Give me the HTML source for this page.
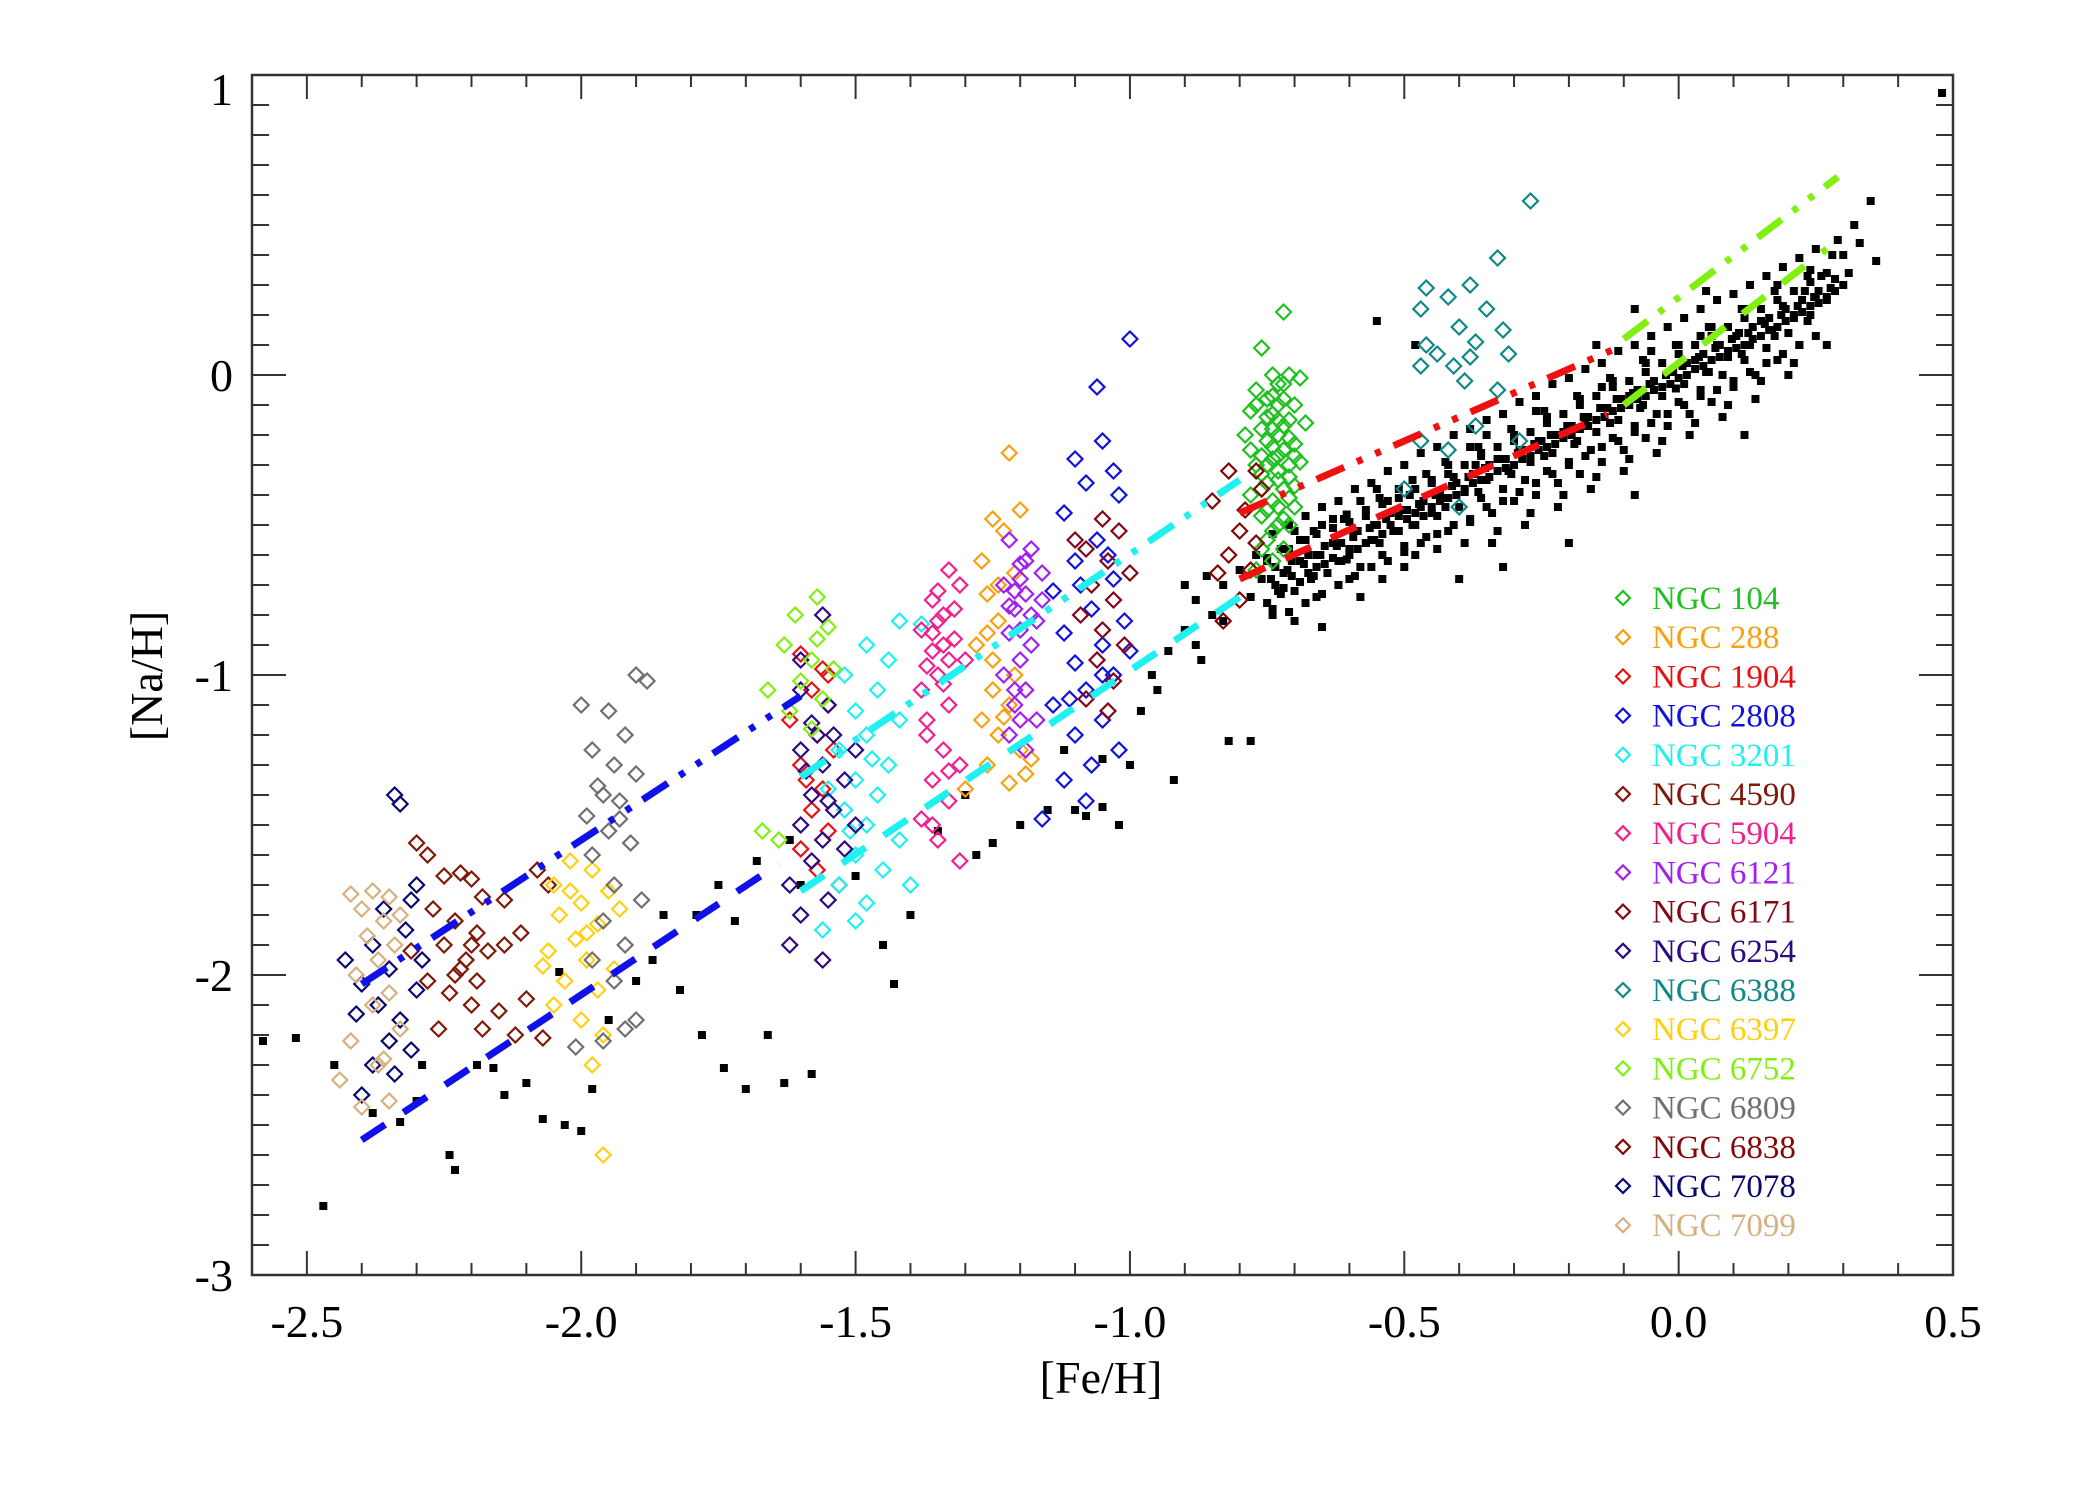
<!DOCTYPE html>
<html><head><meta charset="utf-8"><title>[Na/H] vs [Fe/H]</title>
<style>
html,body{margin:0;padding:0;background:#fff;}
svg{display:block;font-family:"Liberation Serif","DejaVu Serif",serif;}
</style></head>
<body>
<svg id="chart" width="2100" height="1500" viewBox="0 0 2100 1500" xmlns="http://www.w3.org/2000/svg">
<rect x="0" y="0" width="2100" height="1500" fill="#fff"/>
<g id="marks"></g>
<g id="fits"></g>
<g id="axes"></g>
<g id="legend"></g>
<text x="1101" y="1393" font-size="46" text-anchor="middle">[Fe/H]</text>
<text transform="translate(162,676) rotate(-90)" font-size="46" text-anchor="middle">[Na/H]</text>
</svg>
<script>
// ---- data ----
const xTicks = [-2.5, -2.0, -1.5, -1.0, -0.5, 0.0, 0.5];
const xTickLabels = ["-2.5", "-2.0", "-1.5", "-1.0", "-0.5", "0.0", "0.5"];
const yTicks = [-3, -2, -1, 0, 1];
const yTickLabels = ["-3", "-2", "-1", "0", "1"];
const clusterNames = ["NGC 104","NGC 288","NGC 1904","NGC 2808","NGC 3201","NGC 4590","NGC 5904","NGC 6121","NGC 6171","NGC 6254","NGC 6388","NGC 6397","NGC 6752","NGC 6809","NGC 6838","NGC 7078","NGC 7099"];
const clusterColors = ["#20c020","#f8a010","#e81010","#1010e0","#20f0f0","#801808","#f02090","#a020f0","#800818","#300880","#108888","#ffd010","#80f010","#707070","#800808","#080870","#d8b080"];

const ngc104 = [[-0.72,0.21],[-0.76,0.09],[-0.74,0.0],[-0.71,0.0],[-0.69,-0.01],[-0.73,-0.03],[-0.77,-0.05],[-0.75,-0.08],[-0.72,-0.08],[-0.7,-0.1],[-0.78,-0.12],[-0.74,-0.13],[-0.71,-0.15],[-0.68,-0.16],[-0.76,-0.18],[-0.73,-0.2],[-0.75,-0.22],[-0.7,-0.23],[-0.78,-0.25],[-0.72,-0.25],[-0.74,-0.28],[-0.69,-0.29],[-0.77,-0.3],[-0.73,-0.32],[-0.71,-0.34],[-0.75,-0.36],[-0.72,-0.38],[-0.78,-0.4],[-0.74,-0.42],[-0.7,-0.44],[-0.76,-0.47],[-0.73,-0.5],[-0.75,-0.55],[-0.72,-0.58],[-0.74,-0.62],[-0.77,-0.65],[-0.71,-0.3],[-0.73,-0.15],[-0.76,-0.27],[-0.7,-0.37],[-0.79,-0.2],[-0.74,-0.07],[-0.71,-0.21],
[-0.73,-0.1],[-0.75,-0.14],[-0.72,-0.17],[-0.74,-0.24],[-0.76,-0.33],[-0.73,-0.35],[-0.71,-0.41],[-0.75,-0.45],[-0.72,-0.48],[-0.74,-0.52],[-0.76,-0.38],[-0.73,-0.27],[-0.7,-0.27],[-0.77,-0.1],[-0.72,-0.03],[-0.74,-0.18],[-0.71,-0.5],[-0.76,-0.58],[-0.73,-0.44],[-0.75,-0.3]];
const ngc288 = [[-1.22,-0.26],[-1.25,-0.48],[-1.23,-0.52],[-1.2,-0.45],[-1.27,-0.62],[-1.21,-0.66],[-1.26,-0.73],[-1.24,-0.82],[-1.28,-0.9],[-1.25,-1.05],[-1.22,-1.1],[-1.27,-1.15],[-1.24,-1.2],[-1.2,-1.25],[-1.26,-1.3],[-1.22,-1.36],[-1.19,-1.33],[-1.25,-0.95],[-1.21,-1.0],[-1.3,-1.38],[-1.18,-1.28],[-1.24,-0.7],[-1.23,-1.14],[-1.26,-0.86]];
const ngc1904 = [[-1.6,-0.93],[-1.56,-0.98],[-1.58,-1.05],[-1.55,-1.1],[-1.62,-1.15],[-1.57,-1.2],[-1.54,-1.25],[-1.6,-1.3],[-1.56,-1.38],[-1.58,-1.45],[-1.55,-1.52],[-1.6,-1.58],[-1.57,-1.65],[-1.53,-1.7],[-1.59,-1.35],[-1.55,-1.0]];
const ngc2808 = [[-1.0,0.12],[-1.06,-0.04],[-1.05,-0.22],[-1.1,-0.28],[-1.03,-0.32],[-1.08,-0.36],[-1.02,-0.4],[-1.12,-0.46],[-1.06,-0.55],[-1.1,-0.62],[-1.03,-0.68],[-1.14,-0.72],[-1.07,-0.78],[-1.01,-0.82],[-1.12,-0.86],[-1.05,-0.9],[-1.1,-0.96],[-1.03,-1.0],[-1.08,-1.05],[-1.14,-1.1],[-1.05,-1.15],[-1.1,-1.2],[-1.02,-1.25],[-1.07,-1.3],[-1.12,-1.35],[-1.08,-1.42],[-1.16,-1.48],[-1.0,-0.92],[-1.04,-0.6],[-1.09,-0.7],[-1.05,-1.0],[-1.11,-1.08]];
const ngc3201 = [[-1.42,-0.82],[-1.38,-0.83],[-1.48,-0.9],[-1.44,-0.95],[-1.52,-1.0],[-1.46,-1.05],[-1.5,-1.12],[-1.42,-1.15],[-1.48,-1.2],[-1.53,-1.25],[-1.44,-1.3],[-1.5,-1.35],[-1.46,-1.4],[-1.52,-1.45],[-1.48,-1.5],[-1.42,-1.55],[-1.5,-1.6],[-1.45,-1.65],[-1.53,-1.7],[-1.48,-1.76],[-1.5,-1.82],[-1.56,-1.85],[-1.4,-1.7],[-1.55,-1.38],[-1.47,-1.28],[-1.51,-1.52]];
const ngc4590 = [[-2.3,-1.56],[-2.28,-1.6],[-2.25,-1.67],[-2.2,-1.68],[-2.22,-1.66],[-2.18,-1.74],[-2.14,-1.75],[-2.08,-1.65],[-2.06,-1.7],[-2.27,-1.78],[-2.23,-1.82],[-2.19,-1.86],[-2.25,-1.9],[-2.21,-1.95],[-2.17,-1.92],[-2.23,-2.0],[-2.19,-2.02],[-2.14,-1.9],[-2.11,-1.86],[-2.24,-2.06],[-2.2,-2.1],[-2.15,-2.12],[-2.1,-2.08],[-2.18,-2.18],[-2.26,-2.18],[-2.12,-2.2],[-2.07,-2.21],[-2.31,-1.92],[-2.28,-2.02],[-2.22,-1.98],[-2.2,-1.9]];
const ngc5904 = [[-1.33,-0.65],[-1.31,-0.7],[-1.36,-0.75],[-1.34,-0.8],[-1.38,-0.85],[-1.32,-0.88],[-1.36,-0.92],[-1.3,-0.95],[-1.35,-1.0],[-1.38,-1.05],[-1.33,-1.1],[-1.37,-1.2],[-1.34,-1.25],[-1.31,-1.3],[-1.36,-1.35],[-1.33,-1.42],[-1.38,-1.48],[-1.35,-1.55],[-1.31,-1.62],[-1.36,-1.5],[-1.34,-0.9],[-1.37,-0.97],[-1.35,-0.82],[-1.32,-0.78],[-1.36,-0.86],[-1.33,-0.95],[-1.35,-0.72],[-1.34,-1.03],[-1.37,-1.15],[-1.33,-1.32]];
const ngc6121 = [[-1.22,-0.55],[-1.18,-0.58],[-1.2,-0.63],[-1.16,-0.66],[-1.23,-0.7],[-1.19,-0.73],[-1.21,-0.78],[-1.17,-0.82],[-1.22,-0.86],[-1.18,-0.9],[-1.2,-0.95],[-1.23,-1.0],[-1.19,-1.05],[-1.21,-1.1],[-1.17,-1.15],[-1.22,-1.2],[-1.19,-1.25],[-1.16,-0.75],[-1.2,-0.68],[-1.21,-0.72],[-1.18,-0.8],[-1.2,-0.85],[-1.19,-0.62],[-1.22,-0.77],[-1.2,-1.15],[-1.21,-1.05]];
const ngc6171 = [[-1.05,-0.48],[-1.02,-0.52],[-1.08,-0.58],[-1.04,-0.62],[-1.0,-0.66],[-1.07,-0.7],[-1.03,-0.75],[-1.09,-0.8],[-1.05,-0.85],[-1.01,-0.9],[-1.06,-0.95],[-1.03,-1.02],[-1.08,-1.08],[-1.04,-1.12],[-1.1,-0.55]];
const ngc6254 = [[-1.56,-0.8],[-1.6,-1.05],[-1.55,-1.1],[-1.58,-1.16],[-1.54,-1.2],[-1.6,-1.25],[-1.56,-1.3],[-1.52,-1.35],[-1.58,-1.4],[-1.54,-1.45],[-1.6,-1.5],[-1.56,-1.55],[-1.52,-1.58],[-1.58,-1.62],[-1.62,-1.7],[-1.55,-1.75],[-1.6,-1.8],[-1.62,-1.9],[-1.56,-1.95],[-1.5,-1.5],[-1.5,-1.25],[-1.6,-0.95],[-1.57,-1.2],[-1.55,-1.42],[-1.59,-1.32]];
const ngc6388 = [[-0.27,0.58],[-0.33,0.39],[-0.38,0.3],[-0.46,0.29],[-0.42,0.26],[-0.35,0.22],[-0.47,0.22],[-0.4,0.16],[-0.32,0.15],[-0.37,0.11],[-0.46,0.1],[-0.44,0.07],[-0.41,0.03],[-0.38,0.06],[-0.31,0.07],[-0.47,0.03],[-0.39,-0.02],[-0.33,-0.05],[-0.29,-0.22],[-0.37,-0.17],[-0.47,-0.22],[-0.42,-0.25],[-0.4,-0.44],[-0.5,-0.38]];
const ngc6397 = [[-2.02,-1.62],[-1.98,-1.65],[-2.05,-1.7],[-1.95,-1.72],[-2.0,-1.76],[-2.04,-1.8],[-1.97,-1.83],[-2.01,-1.88],[-2.06,-1.92],[-1.99,-1.95],[-1.94,-1.98],[-2.03,-2.02],[-1.97,-2.05],[-2.05,-2.1],[-2.0,-2.15],[-1.96,-2.2],[-1.98,-2.3],[-1.96,-2.6],[-2.07,-1.97],[-1.93,-1.78],[-2.02,-1.72],[-1.99,-1.86]];
const ngc6809 = [[-1.9,-1.0],[-1.88,-1.02],[-2.0,-1.1],[-1.95,-1.12],[-1.92,-1.2],[-1.98,-1.25],[-1.94,-1.3],[-1.9,-1.33],[-1.97,-1.37],[-1.93,-1.42],[-1.99,-1.47],[-1.95,-1.52],[-1.91,-1.56],[-1.98,-1.6],[-1.94,-1.7],[-1.89,-1.75],[-1.96,-1.82],[-1.92,-1.9],[-1.98,-1.95],[-1.94,-2.02],[-1.9,-2.15],[-1.96,-2.22],[-2.01,-2.24],[-1.92,-2.18],[-1.96,-1.4],[-1.93,-1.48]];
const ngc6752 = [[-1.57,-0.74],[-1.61,-0.8],[-1.55,-0.84],[-1.63,-0.9],[-1.58,-0.95],[-1.54,-0.98],[-1.6,-1.02],[-1.66,-1.05],[-1.56,-1.08],[-1.62,-1.12],[-1.58,-1.18],[-1.67,-1.52],[-1.64,-1.55],[-1.57,-0.88]];
const ngc6838 = [[-0.77,-0.32],[-0.82,-0.32],[-0.85,-0.42],[-0.79,-0.45],[-0.76,-0.38],[-0.8,-0.52],[-0.77,-0.56],[-0.82,-0.6],[-0.78,-0.65],[-0.84,-0.66],[-0.8,-0.75],[-0.83,-0.82]];
const ngc7078 = [[-2.34,-1.4],[-2.33,-1.43],[-2.3,-1.7],[-2.31,-1.75],[-2.36,-1.78],[-2.32,-1.85],[-2.38,-1.9],[-2.43,-1.95],[-2.35,-1.98],[-2.4,-2.03],[-2.3,-2.05],[-2.37,-2.1],[-2.33,-2.15],[-2.41,-2.13],[-2.35,-2.22],[-2.31,-2.25],[-2.38,-2.3],[-2.34,-2.33],[-2.4,-2.4],[-2.29,-1.95]];
const ngc7099 = [[-2.42,-1.73],[-2.38,-1.72],[-2.35,-1.74],[-2.4,-1.78],[-2.36,-1.82],[-2.33,-1.8],[-2.39,-1.87],[-2.34,-1.9],[-2.37,-1.95],[-2.41,-2.0],[-2.35,-2.06],[-2.38,-2.1],[-2.33,-2.18],[-2.42,-2.22],[-2.36,-2.28],[-2.44,-2.35],[-2.4,-2.44],[-2.35,-2.42],[-2.37,-2.3]];
const clusterData = [ngc104,ngc288,ngc1904,ngc2808,ngc3201,ngc4590,ngc5904,ngc6121,ngc6171,ngc6254,ngc6388,ngc6397,ngc6752,ngc6809,ngc6838,ngc7078,ngc7099];

const fieldPoor = [[-2.58,-2.22],[-2.52,-2.21],[-2.47,-2.77],[-2.45,-2.3],[-2.38,-2.46],[-2.33,-2.49],[-2.3,-2.42],[-2.29,-2.3],[-2.24,-2.6],[-2.23,-2.65],[-2.19,-2.3],[-2.16,-2.31],[-2.14,-2.4],[-2.1,-2.36],[-2.07,-2.48],[-2.03,-2.5],[-2.0,-2.52],[-2.04,-1.99],[-1.98,-2.38],[-1.95,-2.15],[-1.9,-2.02],[-1.87,-1.95],[-1.85,-1.8],[-1.82,-2.05],[-1.79,-1.8],[-1.78,-2.2],[-1.75,-1.7],[-1.72,-1.82],[-1.74,-2.31],[-1.7,-2.38],[-1.68,-1.62],[-1.66,-2.2],[-1.63,-2.36],[-1.62,-1.55],[-1.6,-1.7],[-1.58,-2.33],[-1.5,-1.67],[-1.45,-1.9],[-1.43,-2.03],[-1.4,-1.8],[-1.35,-1.52],[-1.3,-1.4],[-1.28,-1.6],[-1.25,-1.56],[-1.2,-1.5],[-1.15,-1.45],[-1.12,-1.25],[-1.1,-1.45],[-1.08,-1.47],[-1.05,-1.28],[-1.05,-1.44],[-1.02,-1.5],[-1.0,-1.3],[-0.98,-1.12],[-0.96,-1.0],[-0.95,-1.05],[-0.93,-0.92],[-0.92,-1.35],[-0.9,-0.85],[-0.88,-0.75],[-0.87,-0.95],[-0.85,-0.8],[-0.83,-0.7],[-0.82,-1.22],[-0.8,-0.65],[-0.78,-1.22],[-0.83,-0.82],[-0.88,-0.9],[-0.9,-0.7],[-0.86,-0.67]];
const fieldRich = [[-0.78,-0.74],[-0.76,-0.68],[-0.75,-0.62],[-0.74,-0.78],[-0.72,-0.66],[-0.71,-0.58],[-0.7,-0.72],[-0.69,-0.62],[-0.68,-0.55],[-0.67,-0.68],[-0.66,-0.6],[-0.65,-0.5],[-0.64,-0.66],[-0.63,-0.56],[-0.62,-0.62],[-0.61,-0.48],[-0.6,-0.58],[-0.59,-0.52],[-0.58,-0.64],[-0.57,-0.45],[-0.56,-0.55],[-0.55,-0.5],[-0.54,-0.6],[-0.53,-0.42],[-0.52,-0.52],[-0.51,-0.47],[-0.5,-0.57],[-0.49,-0.4],[-0.48,-0.5],[-0.47,-0.44],[-0.46,-0.54],[-0.45,-0.36],[-0.44,-0.47],[-0.43,-0.41],[-0.42,-0.52],[-0.41,-0.34],[-0.4,-0.44],[-0.39,-0.38],[-0.38,-0.49],[-0.37,-0.3],[-0.36,-0.41],[-0.35,-0.35],[-0.34,-0.46],[-0.33,-0.28],[-0.32,-0.38],[-0.31,-0.32],[-0.3,-0.42],[-0.29,-0.25],[-0.28,-0.35],[-0.27,-0.29],[-0.26,-0.4],[-0.25,-0.22],[-0.24,-0.32],[-0.23,-0.26],[-0.22,-0.36],[-0.21,-0.19],[-0.2,-0.29],[-0.19,-0.23],[-0.18,-0.33],[-0.17,-0.15],[-0.16,-0.25],[-0.15,-0.19],[-0.14,-0.29],[-0.13,-0.11],[-0.12,-0.21],[-0.11,-0.15],[-0.1,-0.25],[-0.09,-0.07],[-0.08,-0.17],[-0.07,-0.11],[-0.06,-0.21],[-0.05,-0.03],[-0.04,-0.13],[-0.03,-0.07],[-0.02,-0.17],[-0.01,0.01],[0.0,-0.09],[0.01,-0.03],[0.02,-0.13],[0.03,0.05],[0.04,-0.05],[0.05,0.01],[0.06,-0.09],[0.07,0.1],[0.08,0.0],[0.09,0.06],[0.1,-0.04],[0.11,0.14],[0.12,0.05],[0.13,0.1],[0.14,0.0],[0.15,0.18],[0.16,0.09],[0.17,0.15],[0.18,0.05],[0.19,0.23],[0.2,0.14],[0.21,0.2],[0.22,0.1],[0.23,0.28],[0.24,0.2],[0.25,0.26],[0.26,0.33],[0.27,0.25],[0.28,0.4],[0.3,0.3],[0.32,0.5],[0.33,0.44],[0.35,0.58],[0.36,0.38],[0.48,0.94],
[-0.77,-0.6],[-0.73,-0.72],[-0.7,-0.52],[-0.66,-0.74],[-0.63,-0.48],[-0.6,-0.68],[-0.57,-0.56],[-0.54,-0.68],[-0.51,-0.38],[-0.48,-0.6],[-0.45,-0.46],[-0.42,-0.3],[-0.39,-0.56],[-0.36,-0.26],[-0.33,-0.52],[-0.3,-0.2],[-0.27,-0.46],[-0.24,-0.14],[-0.21,-0.4],[-0.18,-0.08],[-0.15,-0.34],[-0.12,-0.02],[-0.09,-0.28],[-0.06,0.04],[-0.03,-0.22],[0.0,0.1],[0.03,-0.16],[0.06,0.16],[0.09,-0.1],[0.12,0.22],[0.15,-0.02],[0.18,0.3],[0.21,0.04],[0.24,0.35],[0.27,0.1],
[-0.62,-0.7],[-0.55,-0.38],[-0.5,-0.64],[-0.44,-0.58],[-0.38,-0.24],[-0.34,-0.56],[-0.28,-0.5],[-0.22,-0.44],[-0.16,-0.38],[-0.1,-0.32],[-0.04,-0.26],[0.02,-0.2],[0.08,-0.14],[0.14,-0.08],[0.2,0.0],[-0.58,-0.42],[-0.46,-0.33],[-0.35,-0.2],[-0.26,-0.12],[-0.14,-0.04],[-0.05,0.08],[0.04,0.13],[-0.7,-0.82],[-0.65,-0.84],[-0.4,-0.68],[-0.32,-0.64],[-0.2,-0.56],[-0.08,-0.4],[-0.48,0.1],[-0.15,0.1],[-0.55,0.18],[0.05,0.28],[-0.08,0.22],[-0.58,-0.74],[0.12,-0.2]];
const fieldBand = [[-0.75,-0.61],[-0.75,-0.76],[-0.735,-0.64],[-0.735,-0.7],[-0.72,-0.58],[-0.72,-0.71],[-0.705,-0.62],[-0.705,-0.67],[-0.69,-0.55],[-0.69,-0.69],[-0.675,-0.6],[-0.675,-0.66],[-0.66,-0.53],[-0.66,-0.64],[-0.645,-0.57],[-0.645,-0.63],[-0.63,-0.51],[-0.63,-0.61],[-0.615,-0.56],[-0.615,-0.62],[-0.6,-0.49],[-0.6,-0.6],[-0.585,-0.52],[-0.585,-0.58],[-0.57,-0.47],[-0.57,-0.56],[-0.555,-0.5],[-0.555,-0.55],[-0.54,-0.43],[-0.54,-0.53],[-0.525,-0.46],[-0.525,-0.5],[-0.51,-0.41],[-0.51,-0.52],[-0.495,-0.45],[-0.495,-0.48],[-0.48,-0.38],[-0.48,-0.46],[-0.465,-0.42],[-0.465,-0.47],[-0.45,-0.35],[-0.45,-0.44],[-0.435,-0.39],[-0.435,-0.42],[-0.42,-0.33],[-0.42,-0.41],[-0.405,-0.36],[-0.405,-0.4],[-0.39,-0.3],[-0.39,-0.39],[-0.375,-0.33],[-0.375,-0.36],[-0.36,-0.27],[-0.36,-0.35],[-0.345,-0.3],[-0.345,-0.34],[-0.33,-0.24],[-0.33,-0.32],[-0.315,-0.28],[-0.315,-0.31],[-0.3,-0.22],[-0.3,-0.3],[-0.285,-0.25],[-0.285,-0.28],[-0.27,-0.19],[-0.27,-0.27],[-0.255,-0.22],[-0.255,-0.25],[-0.24,-0.16],[-0.24,-0.24],[-0.225,-0.2],[-0.225,-0.23],[-0.21,-0.13],[-0.21,-0.21],[-0.195,-0.17],[-0.195,-0.2],[-0.18,-0.1],[-0.18,-0.18],[-0.165,-0.14],[-0.165,-0.17],[-0.15,-0.07],[-0.15,-0.15],[-0.135,-0.11],[-0.135,-0.14],[-0.12,-0.04],[-0.12,-0.12],[-0.105,-0.08],[-0.105,-0.11],[-0.09,-0.02],[-0.09,-0.1],[-0.075,-0.05],[-0.075,-0.08],[-0.06,0.01],[-0.06,-0.07],[-0.045,-0.02],[-0.045,-0.05],[-0.03,0.04],[-0.03,-0.04],[-0.015,0.01],[-0.015,-0.03],[0.0,0.07],[0.0,-0.01],[0.015,0.04],[0.015,0.0],[0.03,0.1],[0.03,0.02],[0.045,0.07],[0.045,0.03],[0.06,0.13],[0.06,0.05],[0.075,0.1],[0.075,0.06],[0.09,0.16],[0.09,0.08],[0.105,0.13],[0.105,0.09],[0.12,0.19],[0.12,0.1],[0.135,0.16],[0.135,0.12],[0.15,0.22],[0.15,0.13],[0.165,0.19],[0.165,0.15],[0.18,0.25],[0.18,0.16],[0.195,0.22],[0.195,0.18],[0.21,0.28],[0.21,0.19],[0.225,0.25],[0.225,0.21],[0.24,0.31],[0.24,0.23],[0.255,0.28],[0.255,0.24],[0.27,0.34],[0.27,0.26],[0.285,0.32],[0.285,0.28],
[-0.743,-0.68],[-0.713,-0.65],[-0.683,-0.63],[-0.653,-0.6],[-0.623,-0.57],[-0.593,-0.54],[-0.563,-0.51],[-0.533,-0.48],[-0.503,-0.45],[-0.473,-0.43],[-0.443,-0.4],[-0.413,-0.37],[-0.383,-0.34],[-0.353,-0.31],[-0.323,-0.28],[-0.293,-0.26],[-0.263,-0.23],[-0.233,-0.2],[-0.203,-0.17],[-0.173,-0.14],[-0.143,-0.11],[-0.113,-0.08],[-0.083,-0.06],[-0.053,-0.03],[-0.023,0.0],[0.007,0.03],[0.037,0.06],[0.067,0.09],[0.097,0.12],[0.127,0.14],[0.157,0.17],[0.187,0.2],[0.217,0.23],[0.247,0.26],[0.277,0.29],[0.3,0.4],[0.31,0.34],[0.29,0.45]];
const fieldWide = [[-0.74,-0.53],[-0.74,-0.8],[-0.71,-0.5],[-0.71,-0.79],[-0.68,-0.47],[-0.68,-0.76],[-0.65,-0.44],[-0.65,-0.73],[-0.62,-0.42],[-0.62,-0.7],[-0.59,-0.38],[-0.59,-0.67],[-0.56,-0.36],[-0.56,-0.64],[-0.53,-0.32],[-0.53,-0.62],[-0.5,-0.3],[-0.5,-0.59],[-0.47,-0.26],[-0.47,-0.56],[-0.44,-0.24],[-0.44,-0.53],[-0.41,-0.2],[-0.41,-0.5],[-0.38,-0.18],[-0.38,-0.48],[-0.35,-0.15],[-0.35,-0.44],[-0.32,-0.13],[-0.32,-0.42],[-0.29,-0.09],[-0.29,-0.39],[-0.26,-0.07],[-0.26,-0.36],[-0.23,-0.03],[-0.23,-0.33],[-0.2,-0.01],[-0.2,-0.3],[-0.17,0.02],[-0.17,-0.27],[-0.14,0.04],[-0.14,-0.24],[-0.11,0.08],[-0.11,-0.22],[-0.08,0.1],[-0.08,-0.19],[-0.05,0.13],[-0.05,-0.16],[-0.02,0.16],[-0.02,-0.13],[0.01,0.19],[0.01,-0.1],[0.04,0.22],[0.04,-0.07],[0.07,0.25],[0.07,-0.05],[0.1,0.27],[0.1,-0.02],[0.13,0.3],[0.13,0.01],[0.16,0.33],[0.16,0.04],[0.19,0.36],[0.19,0.07],[0.22,0.39],[0.22,0.1],[0.25,0.42],[0.25,0.13],
[-0.725,-0.58],[-0.725,-0.73],[-0.665,-0.52],[-0.665,-0.67],[-0.605,-0.465],[-0.605,-0.615],[-0.545,-0.41],[-0.545,-0.56],[-0.485,-0.35],[-0.485,-0.5],[-0.425,-0.29],[-0.425,-0.44],[-0.365,-0.24],[-0.365,-0.39],[-0.305,-0.18],[-0.305,-0.33],[-0.245,-0.12],[-0.245,-0.27],[-0.185,-0.07],[-0.185,-0.22],[-0.125,-0.01],[-0.125,-0.16],[-0.065,0.05],[-0.065,-0.1],[-0.005,0.1],[-0.005,-0.045],[0.055,0.16],[0.055,0.01],[0.115,0.22],[0.115,0.07],[0.175,0.28],[0.175,0.13],[0.235,0.33],[0.235,0.18]];

const fitStart = [-2.40, -2.40, -1.60, -1.60, -0.80, -0.80, -0.10, -0.10];
const fitEnd   = [-1.60, -1.64, -0.80, -0.80, -0.10, -0.13, 0.29, 0.27];
const fitY0    = [-2.03, -2.55, -1.34, -1.72, -0.46, -0.68, 0.12, -0.10];
const fitY1    = [-1.07, -1.63, -0.35, -0.74, 0.10, -0.13, 0.66, 0.42];
const fitColors = ["#1010e8","#1010e8","#20f0f0","#20f0f0","#f01010","#f01010","#80f010","#80f010"];
const fitStyles = ["dd","dash","dd","dash","dd","dash","dd","dash"];

// ---- axes functions ----
const L=252, R=1953, T=75, B=1275;
const xMin=-2.6, xMax=0.5, yMin=-3, yMax=1;
function X(v){return L+(v-xMin)/(xMax-xMin)*(R-L);}
function Y(v){return B-(v-yMin)/(yMax-yMin)*(B-T);}
const NS="http://www.w3.org/2000/svg";
function mk(tag,attrs,parent){const e=document.createElementNS(NS,tag);for(const k in attrs)e.setAttribute(k,attrs[k]);parent.appendChild(e);return e;}

const marks=document.getElementById('marks');
const fieldG=mk('g',{},marks);


fieldPoor.concat(fieldRich,fieldBand,fieldWide).forEach(p=>{
  const r=mk('rect',{x:X(p[0])-4,y:Y(p[1])-4,width:8,height:8,fill:'#000'},fieldG);
  
  
});
clusterData.forEach((pts,i)=>{
  const g=mk('g',{},marks);
  
  
  pts.forEach(p=>{
    const cx=X(p[0]),cy=Y(p[1]),s=7.5;
    const d=mk('path',{d:`M${cx} ${cy-s}L${cx+s} ${cy}L${cx} ${cy+s}L${cx-s} ${cy}Z`,fill:'none',stroke:clusterColors[i],'stroke-width':2.2},g);
    
    
  });
});

const fits=document.getElementById('fits');
fitStart.forEach((s,i)=>{
  const ln=mk('line',{x1:X(s),y1:Y(fitY0[i]),x2:X(fitEnd[i]),y2:Y(fitY1[i]),stroke:fitColors[i],'stroke-width':7,
    'stroke-dasharray':fitStyles[i]==='dd'?'30,14,6,14,6,14':'28,22'},fits);
  
  
});

const axes=document.getElementById('axes');
mk('rect',{x:L,y:T,width:R-L,height:B-T,fill:'none',stroke:'#333','stroke-width':2.5},axes);
for(let k=-26;k<=5;k++){
  const v=k/10,x=X(v),major=(k%5===0),len=major?24:12;
  mk('line',{x1:x,y1:B,x2:x,y2:B-len,stroke:'#333','stroke-width':2},axes);
  mk('line',{x1:x,y1:T,x2:x,y2:T+len,stroke:'#333','stroke-width':2},axes);
}
for(let k=-30;k<=10;k++){
  const v=k/10,y=Y(v),major=(k%10===0),len=major?34:17;
  mk('line',{x1:L,y1:y,x2:L+len,y2:y,stroke:'#333','stroke-width':2},axes);
  mk('line',{x1:R,y1:y,x2:R-len,y2:y,stroke:'#333','stroke-width':2},axes);
}
xTicks.forEach((v,i)=>{
  const t=mk('text',{x:X(v),y:1337,'font-size':46,'text-anchor':'middle'},axes);
  t.textContent=xTickLabels[i];
  
  
});
yTicks.forEach((v,i)=>{
  let cy=Y(v); if(v===yMax) cy+=14;
  const t=mk('text',{x:233,y:cy+16,'font-size':46,'text-anchor':'end'},axes);
  t.textContent=yTickLabels[i];
  
  
});

const legend=document.getElementById('legend');
clusterNames.forEach((n,i)=>{
  const cy=598+i*39.2,cx=1623,s=7;
  const g=mk('g',{},legend);
  
  
  mk('path',{d:`M${cx} ${cy-s}L${cx+s} ${cy}L${cx} ${cy+s}L${cx-s} ${cy}Z`,fill:'none',stroke:clusterColors[i],'stroke-width':2.2},g);
  const t=mk('text',{x:1652,y:cy+11,'font-size':33,fill:clusterColors[i]},g);
  t.textContent=n;
});
</script>
</body></html>
